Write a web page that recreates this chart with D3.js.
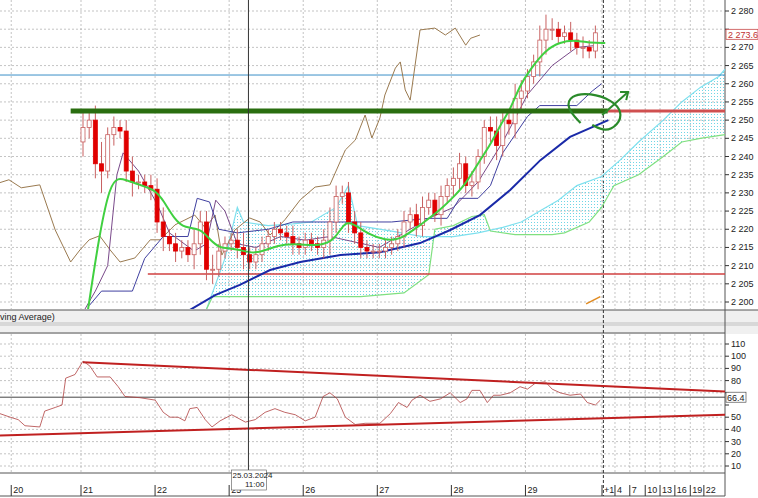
<!DOCTYPE html>
<html>
<head>
<script src="https://d3js.org/d3.v7.min.js"></script>
<style>
body{margin:0;background:#fff;font-family:"Liberation Sans",Arial,sans-serif}
text{font-size:9px;fill:#222}
</style>
</head>
<body>
<svg id="c" width="758" height="498"></svg>
<script>
// candle closes, 12 bars per day (21,22,25,26,27,28,29)
var closes = [2.248,2.250,2.238,2.236,2.246,2.248,2.247,2.236,2.233,2.233,2.232,2.231,
  2.222,2.218,2.216,2.214,2.215,2.213,2.216,2.222,2.209,2.209,2.214,2.216,
  2.217,2.215,2.213,2.211,2.213,2.216,2.218,2.220,2.219,2.218,2.216,2.215,
  2.217,2.216,2.215,2.217,2.222,2.229,2.230,2.222,2.219,2.215,2.214,2.214,
  2.214,2.215,2.216,2.218,2.222,2.224,2.221,2.226,2.228,2.224,2.229,2.232,
  2.234,2.238,2.232,2.233,2.240,2.248,2.247,2.243,2.250,2.249,2.256,2.258,
  2.262,2.266,2.272,2.275,2.275,2.273,2.274,2.272,2.270,2.270,2.269,2.274];
var firstOpen = 2.244;
var wicks = [.004,.003,.004,.006,.002,.003,.002,.003,.004,.002,.002,.003,
  .003,.004,.002,.003,.002,.002,.004,.003,.003,.004,.002,.002,
  .002,.003,.004,.002,.002,.002,.002,.002,.002,.002,.003,.002,
  .002,.002,.002,.003,.004,.003,.002,.003,.003,.003,.002,.002,
  .002,.002,.002,.002,.003,.002,.003,.003,.002,.002,.003,.002,
  .003,.003,.002,.003,.002,.002,.003,.004,.003,.003,.004,.003,
  .002,.002,.004,.004,.003,.002,.002,.003,.002,.003,.002,.002];
var chikou = [[-13.5,2.2328],[-12,2.2336],[-10,2.2314],[-7,2.2322],[-4.5,2.2198],[-2,2.2110],[-0.5,2.2143],[1,2.2171],[2.7,2.2182],[4.4,2.2143],[6,2.2110],[8.4,2.2121],[10.9,2.2171],[12.5,2.2171],[14.9,2.2212],[18.1,2.2239],[19.8,2.2204],[21.4,2.2239],[22.5,2.2129],[24.6,2.2198],[27,2.2231],[28.7,2.2220],[30.3,2.2184],[32.7,2.2226],[35.2,2.2281],[37.6,2.2316],[40,2.2322],[42.5,2.2418],[44.1,2.2445],[45.7,2.2514],[46.8,2.2451],[48.1,2.2506],[48.9,2.2569],[50.6,2.2643],[51.4,2.2660],[52.2,2.2583],[53,2.2555],[54.6,2.2748],[57,2.2753],[58.7,2.2734],[60.3,2.2753],[62,2.2706],[62.8,2.2725],[64.3,2.2734]];
var tenkan = [[0.8,2.1978],[2.76,2.2198],[4.4,2.2322],[5.7,2.2341],[6.8,2.2336],[9.2,2.2322],[11.7,2.2308],[13,2.2280],[14.9,2.2225],[16.5,2.2203],[19,2.2203],[20.6,2.2170],[22.2,2.2148],[23.8,2.2148],[25.4,2.2143],[27.9,2.2132],[30.3,2.2148],[32.7,2.2159],[35.2,2.2159],[38.4,2.2154],[40.8,2.2170],[42.5,2.2225],[44.1,2.2212],[46.5,2.2184],[48.9,2.2170],[51.4,2.2170],[54.6,2.2212],[57.9,2.2253],[60.3,2.2294],[61.9,2.2322],[64.3,2.2390],[66,2.2432],[67.6,2.2487],[69.2,2.2528],[70.8,2.2597],[72.4,2.2638],[74.9,2.2693],[77.3,2.2715],[79.7,2.2720],[82.2,2.2712],[84.6,2.2712]];
var ma = [[17.3,2.1978],[21.4,2.2019],[25.4,2.2047],[30.3,2.2088],[35.2,2.2110],[41.7,2.2129],[48.1,2.2137],[54.6,2.2162],[59.5,2.2198],[64.3,2.2239],[69.2,2.2308],[74.1,2.2390],[78.9,2.2454],[85.1,2.2500]];
var purple = [[0.3,2.198],[2,2.203],[4,2.210],[5.5,2.235],[6.5,2.241],[9,2.236],[12,2.227],[14,2.219],[18,2.214],[20,2.216],[21.5,2.228],[23,2.225],[25,2.216],[28,2.215],[32,2.218],[36,2.217],[40,2.218],[44,2.2165],[48,2.215],[52,2.219],[56,2.223],[60,2.226],[64,2.233],[68,2.244],[72,2.257],[76,2.265],[80,2.270],[83,2.2705]];
var kijun = [[1,2.199],[3,2.203],[8,2.203],[10,2.212],[13,2.218],[17,2.218],[18.5,2.2285],[20.5,2.2275],[22,2.220],[25,2.219],[30,2.220],[34,2.222],[44,2.222],[50,2.222],[56,2.223],[59,2.223],[61,2.2285],[64,2.2285],[66,2.232],[68,2.241],[70,2.246],[72,2.251],[74,2.254],[80,2.254],[82.5,2.258],[84,2.260]];
var spanA = [[20,2.198],[23,2.212],[25,2.226],[26,2.222],[30,2.221],[34,2.2215],[37,2.222],[41,2.226],[43,2.232],[44.5,2.221],[50,2.2195],[55,2.218],[60,2.218],[64,2.219],[68,2.2205],[71,2.222],[74,2.225],[77,2.228],[80,2.232],[84,2.2345],[87,2.239],[90,2.244],[94,2.250],[97,2.255],[100,2.259],[103,2.262],[104,2.264]];
var spanB = [[20,2.198],[21,2.2015],[30,2.2015],[40,2.2015],[45,2.2015],[52,2.2025],[56,2.2075],[57,2.220],[60,2.221],[63,2.2235],[65,2.224],[66,2.2195],[70,2.2185],[76,2.2185],[78,2.219],[82,2.222],[84,2.226],[86,2.232],[90,2.235],[94,2.240],[97,2.244],[100,2.245],[104,2.246]];
var rsi = [[-13.5,53],[-11.8,50],[-10.5,48],[-9.4,43],[-7,42],[-6.2,55],[-4.5,58],[-3.4,60],[-2.8,82],[-1.3,85],[0,96],[1.1,92],[2.3,83],[4.4,83],[5.7,75],[6.8,67],[9.2,66],[11.7,64],[13,54],[14.1,50],[15.4,50],[16.5,47],[17.3,57],[18.5,58],[19.8,48],[20.9,42],[22.2,47],[24.1,52],[26.3,46],[27.9,48],[29.5,54],[31.1,57],[32.7,54],[34.4,52],[36,47],[37.6,50],[38.9,67],[40,70],[41.2,65],[42.5,50],[44.1,44],[45.7,45],[48.1,45],[49.8,53],[51.1,62],[52.5,58],[53.3,64],[54.6,68],[56.2,63],[57.9,65],[59.5,70],[61.1,62],[62.2,65],[63,72],[64.3,72],[65.5,62],[66.5,68],[67.6,68],[69.2,70],[70.8,75],[72,73],[73.3,78],[74.9,79],[76,73],[77.3,70],[78.9,68],[80.6,69],[81.7,62],[83,60],[83.8,64]];
var rsiUpper = [[0,95],[104,71]], rsiLower = [[-13.5,35],[104,52]];
var dayTicks = [[-11.3,"20"],[0,"21"],[12,"22"],[24,"25"],[36,"26"],[48,"27"],[60,"28"],[72,"29"]];
var futTicks = [[84.4,"+1"],[86.5,"4"],[88.9,"7"],[91.4,"10"],[93.8,"13"],[96.2,"16"],[98.7,"19"],[100.9,"22"]];
var priceTicks = [2.200,2.205,2.210,2.215,2.220,2.225,2.230,2.235,2.240,2.245,2.250,2.255,2.260,2.265,2.270,2.275,2.280];
var rsiTicks = [10,20,30,40,50,60,70,80,90,100,110];
var scribble = [[80.6,2.2492],[78.3,2.2533],[78.9,2.2569],[82.2,2.2575],[85.7,2.2555],[87.4,2.2522],[86.7,2.2487],[84.6,2.2467],[82.5,2.2487]];
var arrow = [[84.1,2.2514],[88.3,2.2577]], arrowHead = [[87,2.2577],[88.3,2.2577],[88,2.2555]];
var lastPrice = 2.2736, crossIdx = 26.8;

var svg = d3.select("#c");
var W = 725;
var x = d3.scaleLinear().domain([0,104]).range([83,725]);
var y = d3.scaleLinear().domain([2.200,2.280]).range([302,11]);
var yr = d3.scaleLinear().domain([10,110]).range([466,344]);
var fmt = function(v){return d3.format(".3f")(v).replace("."," ");};

// frames
svg.append("rect").attr("x",0).attr("y",310).attr("width",758).attr("height",24).attr("fill","#f0f0f0");
svg.append("rect").attr("x",0).attr("y",322).attr("width",758).attr("height",4).attr("fill","#d8d8d8");
svg.append("text").attr("x",0).attr("y",320).text("ving Average)");
svg.append("line").attr("x1",0).attr("x2",758).attr("y1",310).attr("y2",310).attr("stroke","#555");
svg.append("line").attr("x1",0).attr("x2",W).attr("y1",333).attr("y2",333).attr("stroke","#555");
svg.append("line").attr("x1",0).attr("x2",W).attr("y1",473).attr("y2",473).attr("stroke","#555");
svg.append("line").attr("x1",0).attr("x2",W).attr("y1",496).attr("y2",496).attr("stroke","#555");
svg.append("line").attr("x1",W).attr("x2",W).attr("y1",0).attr("y2",496).attr("stroke","#555");

var defs = svg.append("defs");
var pat = defs.append("pattern").attr("id","dots").attr("width",3).attr("height",3).attr("patternUnits","userSpaceOnUse");
pat.append("rect").attr("width",1).attr("height",1).attr("fill","#6fd6e6");
defs.append("clipPath").attr("id","mainClip").append("rect").attr("x",0).attr("y",0).attr("width",W).attr("height",309);
defs.append("clipPath").attr("id","rsiClip").append("rect").attr("x",0).attr("y",334).attr("width",W).attr("height",138);

// grid
var grid = svg.append("g").attr("stroke","#aaa").attr("stroke-dasharray","2,2").attr("stroke-width",0.7);
dayTicks.concat(futTicks).forEach(function(t){
  var xx = x(t[0])-2;
  grid.append("line").attr("x1",xx).attr("x2",xx).attr("y1",0).attr("y2",309);
  grid.append("line").attr("x1",xx).attr("x2",xx).attr("y1",334).attr("y2",472);
});
priceTicks.forEach(function(p){grid.append("line").attr("x1",0).attr("x2",W).attr("y1",y(p)).attr("y2",y(p));});
rsiTicks.forEach(function(p){grid.append("line").attr("x1",0).attr("x2",W).attr("y1",yr(p)).attr("y2",yr(p));});
svg.append("line").attr("x1",x(84.3)).attr("x2",x(84.3)).attr("y1",0).attr("y2",496).attr("stroke","#333").attr("stroke-dasharray","3,2");

var main = svg.append("g").attr("clip-path","url(#mainClip)");
var line = d3.line().x(function(d){return x(d[0]);}).y(function(d){return y(d[1]);});

// cloud: polygon from span A forward and span B back
main.append("path").datum(spanA.concat(spanB.slice().reverse())).attr("d",line).attr("fill","url(#dots)").attr("stroke","none");
main.append("path").datum(spanA).attr("d",line).attr("fill","none").attr("stroke","#7ee0ee").attr("stroke-width",1.2);
main.append("path").datum(spanB).attr("d",line).attr("fill","none").attr("stroke","#80e080").attr("stroke-width",1.2);

// horizontal levels
main.append("line").attr("x1",0).attr("x2",W).attr("y1",y(2.2624)).attr("y2",y(2.2624)).attr("stroke","#3a8fc8");
main.append("line").attr("x1",x(10.5)).attr("x2",W).attr("y1",y(2.2077)).attr("y2",y(2.2077)).attr("stroke","#d04040").attr("stroke-width",1.5);
main.append("line").attr("x1",x(85)).attr("x2",W).attr("y1",y(2.2525)).attr("y2",y(2.2525)).attr("stroke","#d05050").attr("stroke-width",3);

main.append("path").datum(chikou).attr("d",line).attr("fill","none").attr("stroke","#9a7a50").attr("stroke-width",1);
main.append("path").datum(purple).attr("d",line).attr("fill","none").attr("stroke","#7a4a8a").attr("stroke-width",1);
main.append("path").datum(kijun).attr("d",line).attr("fill","none").attr("stroke","#4040a0").attr("stroke-width",1);
main.append("path").datum(ma).attr("d",line).attr("fill","none").attr("stroke","#1a2aa8").attr("stroke-width",2);

// candles
var cw = 4;
closes.forEach(function(c,i){
  var o = i===0 ? firstOpen : closes[i-1];
  var hi = Math.max(o,c)+wicks[i], lo = Math.min(o,c)-wicks[i];
  var down = c<o, cx = x(i);
  main.append("line").attr("x1",cx).attr("x2",cx).attr("y1",y(hi)).attr("y2",y(lo)).attr("stroke","#c86060");
  main.append("rect").attr("x",cx-cw/2).attr("width",cw).attr("y",y(Math.max(o,c))).attr("height",Math.max(1,Math.abs(y(o)-y(c))))
    .attr("fill",down?"#e00000":"#fff").attr("stroke",down?"#e00000":"#c86060").attr("stroke-width",0.8);
});
main.append("path").datum(tenkan).attr("d",line.curve(d3.curveBasis)).attr("fill","none").attr("stroke","#40d040").attr("stroke-width",2);
line.curve(d3.curveLinear);

// green level & scribble
main.append("line").attr("x1",x(-2)).attr("x2",x(85)).attr("y1",y(2.2525)).attr("y2",y(2.2525)).attr("stroke","#2a6e10").attr("stroke-width",5);
main.append("path").datum(scribble).attr("d",line.curve(d3.curveBasis)).attr("fill","none").attr("stroke","#2a8a2a").attr("stroke-width",2.2);
line.curve(d3.curveLinear);
main.append("path").datum(arrow).attr("d",line).attr("fill","none").attr("stroke","#2a8a2a").attr("stroke-width",2);
main.append("path").datum(arrowHead).attr("d",line).attr("fill","none").attr("stroke","#2a8a2a").attr("stroke-width",2);
main.append("line").attr("x1",x(81.5)).attr("x2",x(83.8)).attr("y1",y(2.1995)).attr("y2",y(2.2015)).attr("stroke","#e08a20").attr("stroke-width",1.5);

// right price axis
priceTicks.forEach(function(p){
  svg.append("line").attr("x1",W).attr("x2",W+4).attr("y1",y(p)).attr("y2",y(p)).attr("stroke","#333");
  if (p !== 2.275) svg.append("text").attr("x",W+6).attr("y",y(p)+3).text(fmt(p));
});
svg.append("rect").attr("x",W+1).attr("y",y(lastPrice)-5).attr("width",32).attr("height",10).attr("fill","#fff").attr("stroke","#c03030").attr("stroke-width",0.7);
svg.append("text").attr("x",W+3).attr("y",y(lastPrice)+3.5).style("fill","#c03030").text("2 273.6");

// RSI panel
var rp = svg.append("g").attr("clip-path","url(#rsiClip)");
var rline = d3.line().x(function(d){return x(d[0]);}).y(function(d){return yr(d[1]);});
rp.append("line").attr("x1",0).attr("x2",W).attr("y1",yr(66.4)).attr("y2",yr(66.4)).attr("stroke","#444");
rp.append("path").datum(rsiUpper).attr("d",rline).attr("stroke","#c02020").attr("stroke-width",2).attr("fill","none");
rp.append("path").datum(rsiLower).attr("d",rline).attr("stroke","#c02020").attr("stroke-width",2).attr("fill","none");
rp.append("path").datum(rsi).attr("d",rline).attr("stroke","#b04040").attr("stroke-width",0.8).attr("fill","none");
rsiTicks.forEach(function(p){
  svg.append("line").attr("x1",W).attr("x2",W+4).attr("y1",yr(p)).attr("y2",yr(p)).attr("stroke","#333");
  if (p !== 70 && p !== 60) svg.append("text").attr("x",W+6).attr("y",yr(p)+3).text(p);
});
svg.append("rect").attr("x",W+1).attr("y",yr(66.4)-5).attr("width",20).attr("height",10).attr("fill","#fff").attr("stroke","#333").attr("stroke-width",0.6);
svg.append("text").attr("x",W+2).attr("y",yr(66.4)+3.5).text("66.4");

// time axis
dayTicks.concat(futTicks).forEach(function(t){
  var xx = x(t[0])-2;
  svg.append("line").attr("x1",xx).attr("x2",xx).attr("y1",485).attr("y2",496).attr("stroke","#333");
  svg.append("text").attr("x",xx+2).attr("y",493).text(t[1]);
});

// crosshair
var cx = x(crossIdx);
svg.append("line").attr("x1",cx).attr("x2",cx).attr("y1",0).attr("y2",485).attr("stroke","#333");
svg.append("rect").attr("x",cx-17).attr("y",470).attr("width",35).attr("height",20).attr("fill","#fff").attr("stroke","#555").attr("stroke-width",0.6);
svg.append("text").attr("x",cx-16).attr("y",478).style("font-size","8px").text("25.03.2024");
svg.append("text").attr("x",cx+16).attr("y",487).attr("text-anchor","end").style("font-size","8px").text("11:00");
</script>
</body>
</html>
